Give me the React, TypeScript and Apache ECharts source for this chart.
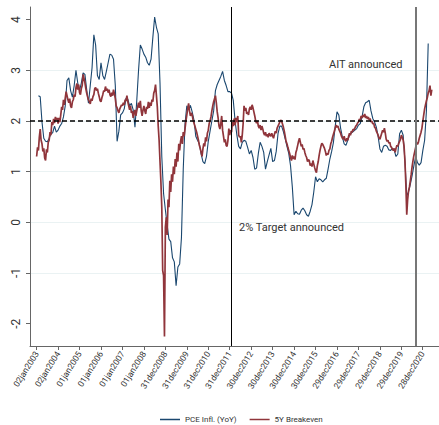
import React, { useEffect, useRef } from "react";
import * as echarts from "echarts";

// Tick labels on the date axis (Stata-style %td dates)
const xTickLabels = [
  "02jan2003", "02jan2004", "01jan2005", "01jan2006", "01jan2007", "01jan2008",
  "31dec2008", "31dec2009", "31dec2010", "31dec2011", "30dec2012", "30dec2013",
  "30dec2014", "30dec2015", "29dec2016", "29dec2017", "29dec2018", "29dec2019",
  "28dec2020",
];
const yTickValues = [-2, -1, 0, 1, 2, 3, 4];

// Policy announcements
const targetDate = "25jan2012";
const aitDate = "27aug2020";
const inflationTarget = 2;

// PCE inflation, year over year, monthly from Feb 2003
const pceFirstMonth = { year: 2003, month: 2 };
const pceInflation = [
  2.5, 2.48, 1.98, 1.66, 1.6, 1.59, 1.66, 1.75, 1.77, 1.9, 1.78,
  1.82, 1.9, 1.95, 2.08, 2.3, 2.8, 2.85, 2.6, 2.47, 2.7, 3.0, 2.75,
  2.6, 2.75, 2.95, 2.92, 2.62, 2.35, 2.7, 3.05, 3.7, 3.5, 2.9, 2.82,
  3.15, 2.9, 2.82, 2.98, 3.15, 3.32, 3.3, 3.22, 2.7, 1.6, 1.8, 2.12,
  2.16, 2.24, 2.45, 2.43, 2.3, 2.35, 2.22, 1.88, 2.4, 3.0, 3.5, 3.42,
  3.32, 3.26, 3.15, 3.1, 3.22, 3.65, 4.05, 3.85, 3.72, 2.75, 1.3, 0.57,
  0.25, -0.05, -0.33, -0.38, -0.7, -0.78, -1.25, -0.88, -0.82, -0.3, 1.05, 1.95,
  2.3, 2.22, 2.31, 2.18, 2.02, 1.7, 1.62, 1.55, 1.35, 1.2, 1.16, 1.3,
  1.6, 1.8, 2.0, 2.2, 2.6, 2.72, 2.8, 2.88, 2.98, 2.8, 2.7, 2.58,
  2.58, 2.55, 2.4, 2.0, 1.72, 1.5, 1.45, 1.58, 1.62, 1.6, 1.48,
  1.35, 1.42, 1.28, 1.05, 1.07, 1.36, 1.58, 1.5, 1.38, 1.05, 1.2, 1.33,
  1.46, 1.2, 1.22, 1.4, 1.75, 1.9, 1.9, 1.79, 1.65, 1.5, 1.36, 1.12,
  0.7, 0.15, 0.22, 0.17, 0.16, 0.24, 0.28, 0.23, 0.15, 0.12, 0.22, 0.35,
  0.6, 0.9, 0.8, 0.86, 0.84, 0.8, 0.84, 0.87, 1.05, 1.25, 1.4, 1.58,
  1.9, 2.18, 2.12, 1.86, 1.68, 1.55, 1.52, 1.62, 1.72, 1.76, 1.79, 1.82,
  1.85, 1.92, 1.95, 2.08, 2.28, 2.36, 2.38, 2.41, 2.2, 2.05, 1.98, 1.88,
  1.69, 1.45, 1.38, 1.5, 1.52, 1.5, 1.43, 1.42, 1.46, 1.42, 1.3, 1.35,
  1.75, 1.82, 1.72, 1.2, 0.52, 0.6, 0.75, 0.92, 1.12, 1.3, 1.18, 1.13,
  1.18, 1.42, 1.62, 2.2, 3.53,
];

// 5-year breakeven inflation, twice a month from the start of 2003
const breakevenFirstYear = 2003;
const breakeven5y = [
  1.30, 1.48, 1.42, 1.68, 1.84, 1.62, 1.55, 1.40, 1.46, 1.27, 1.22, 1.44, 1.38, 1.58, 1.62, 1.78, 1.72, 1.98, 1.92, 2.04, 1.96, 2.08, 2.02, 2.06,
  1.95, 2.06, 1.98, 2.12, 2.28, 2.22, 2.42, 2.32, 2.45, 2.58, 2.50, 2.42, 2.36, 2.44, 2.30, 2.26, 2.38, 2.42, 2.52, 2.48, 2.66, 2.74, 2.62, 2.72,
  2.56, 2.52, 2.64, 2.70, 2.92, 2.84, 2.76, 2.64, 2.55, 2.48, 2.42, 2.38, 2.34, 2.44, 2.40, 2.48, 2.52, 2.64, 2.66, 2.60, 2.64, 2.55, 2.48, 2.40,
  2.38, 2.46, 2.52, 2.60, 2.58, 2.68, 2.60, 2.64, 2.56, 2.62, 2.52, 2.48, 2.56, 2.50, 2.62, 2.54, 2.44, 2.30, 2.26, 2.20, 2.16, 2.24, 2.28, 2.32,
  2.30, 2.36, 2.32, 2.42, 2.40, 2.50, 2.38, 2.30, 2.22, 2.30, 2.16, 2.20, 2.06, 2.16, 2.22, 2.10, 2.20, 2.28, 2.36, 2.26, 2.40, 2.20, 2.10, 2.22,
  2.30, 2.20, 2.14, 2.28, 2.24, 2.38, 2.26, 2.36, 2.30, 2.42, 2.38, 2.55, 2.60, 2.72, 2.50, 2.28, 1.90, 1.62, 1.20, 0.80, 0.30, -0.95, -1.05, -2.25,
  -0.10, 0.10, -0.25, 0.45, 0.30, 0.82, 0.60, 0.95, 0.80, 1.10, 0.95, 1.25, 1.10, 1.38, 1.20, 1.55, 1.42, 1.60, 1.70, 1.55, 1.78, 1.70, 1.85, 2.00,
  2.12, 2.24, 2.35, 2.20, 2.10, 2.16, 2.12, 2.02, 1.96, 1.90, 1.84, 1.78, 1.70, 1.62, 1.52, 1.46, 1.38, 1.30, 1.45, 1.56, 1.50, 1.68, 1.60, 1.76,
  1.82, 1.95, 2.00, 2.08, 2.20, 2.30, 2.38, 2.44, 2.50, 2.36, 2.18, 2.06, 1.90, 1.84, 1.95, 2.10, 1.82, 1.70, 1.58, 1.64, 1.52, 1.50, 1.62, 1.85,
  1.72, 1.82, 1.78, 1.98, 1.90, 2.05, 1.92, 2.06, 1.98, 2.10, 1.72, 1.68, 1.70, 1.58, 1.72, 1.95, 2.30, 2.20, 2.26, 2.14, 2.18, 2.12,
  2.24, 2.28, 2.22, 2.32, 2.26, 2.18, 2.10, 2.00, 1.96, 2.00, 1.90, 1.86, 1.92, 1.82, 1.90, 1.84, 1.76, 1.72, 1.78, 1.70, 1.74, 1.68, 1.76, 1.72,
  1.70, 1.76, 1.70, 1.66, 1.74, 1.80, 1.76, 1.86, 1.90, 1.94, 1.98, 2.02, 2.00, 1.94, 1.88, 1.80, 1.70, 1.60, 1.55, 1.48, 1.42, 1.36, 1.28, 1.22,
  1.32, 1.25, 1.30, 1.24, 1.38, 1.44, 1.52, 1.60, 1.66, 1.58, 1.50, 1.54, 1.44, 1.46, 1.38, 1.32, 1.28, 1.20, 1.24, 1.22, 1.12, 1.16, 1.10, 1.22,
  1.15, 1.08, 1.02, 0.98, 1.12, 1.20, 1.32, 1.42, 1.50, 1.56, 1.54, 1.50, 1.46, 1.40, 1.32, 1.36, 1.34, 1.42, 1.45, 1.55, 1.60, 1.68, 1.74, 1.80,
  1.86, 1.92, 1.88, 1.90, 1.84, 1.80, 1.76, 1.70, 1.66, 1.64, 1.70, 1.62, 1.60, 1.66, 1.62, 1.70, 1.76, 1.72, 1.80, 1.78, 1.84, 1.82, 1.86, 1.90,
  1.92, 1.96, 1.98, 2.04, 2.02, 2.10, 2.06, 2.12, 2.08, 2.14, 2.06, 2.10, 2.04, 2.08, 2.02, 2.05, 1.98, 2.00, 1.94, 1.96, 1.88, 1.86, 1.80, 1.76,
  1.72, 1.66, 1.64, 1.70, 1.76, 1.82, 1.78, 1.86, 1.76, 1.64, 1.60, 1.62, 1.56, 1.58, 1.50, 1.48, 1.44, 1.42, 1.46, 1.38, 1.46, 1.52, 1.50, 1.56,
  1.60, 1.64, 1.72, 1.68, 1.62, 1.50, 1.20, 0.75, 0.15, 0.45, 0.62, 0.70, 0.82, 0.95, 1.10, 1.22, 1.32, 1.40, 1.48, 1.58, 1.54, 1.58, 1.66, 1.72,
  1.78, 1.86, 2.00, 2.12, 2.24, 2.32, 2.40, 2.46, 2.55, 2.60, 2.70, 2.50, 2.62,
];

const seriesNames = ["PCE Infl. (YoY)", "5Y Breakeven"];
const annotations = { target: "2% Target announced", ait: "AIT announced" };

const MONTHS = ["jan", "feb", "mar", "apr", "may", "jun", "jul", "aug", "sep", "oct", "nov", "dec"];

// "02jan2003" -> fractional year
function toDecimalYear(label: string): number {
  const day = Number(label.slice(0, 2));
  const month = MONTHS.indexOf(label.slice(2, 5));
  const year = Number(label.slice(5));
  const start = Date.UTC(year, 0, 1);
  const end = Date.UTC(year + 1, 0, 1);
  return year + (Date.UTC(year, month, day) - start) / (end - start);
}

const NAVY = "#1a476f";
const MAROON = "#90353b";
const FONT = "Roboto, 'Liberation Sans', sans-serif";

export default function App() {
  const ref = useRef<HTMLDivElement>(null);

  useEffect(() => {
    if (!ref.current) return;
    const chart = echarts.init(ref.current, null, { renderer: "svg" });

    const xTicks = xTickLabels.map(toDecimalYear);
    const pceData = pceInflation.map((v, i) => [
      pceFirstMonth.year + (pceFirstMonth.month - 1 + i) / 12,
      v,
    ]);
    const breakevenData = breakeven5y.map((v, i) => [breakevenFirstYear + i / 24, v]);

    chart.setOption({
      animation: false,
      backgroundColor: "#ffffff",
      grid: { left: 30, right: 0, top: 7, height: 339, containLabel: false },
      xAxis: {
        type: "value",
        min: 2002.691,
        max: 2021.753,
        splitLine: { show: false },
        axisLine: { show: true, onZero: false, lineStyle: { color: "#666", width: 1 } },
        axisTick: {
          show: true,
          customValues: xTicks,
          length: 4,
          lineStyle: { color: "#666", width: 1 },
        },
        axisLabel: {
          customValues: xTicks,
          rotate: 58,
          margin: 6,
          fontSize: 8.5,
          fontFamily: FONT,
          color: "#333",
          formatter: (val: number) => {
            let best = 0;
            xTicks.forEach((t, i) => {
              if (Math.abs(t - val) < Math.abs(xTicks[best] - val)) best = i;
            });
            return xTickLabels[best];
          },
        },
      },
      yAxis: {
        type: "value",
        min: -2.44,
        max: 4.25,
        splitNumber: 6,
        axisLine: { show: true, lineStyle: { color: "#666", width: 1 } },
        axisTick: {
          show: true,
          customValues: yTickValues,
          length: 4,
          lineStyle: { color: "#666", width: 1 },
        },
        axisLabel: {
          customValues: yTickValues,
          rotate: 90,
          margin: 8,
          fontSize: 12,
          fontFamily: FONT,
          color: "#333",
        },
        splitLine: {
          show: true,
          showMinLine: false,
          showMaxLine: false,
          lineStyle: { color: "#eaf2f3", width: 1 },
        },
      },
      legend: {
        data: seriesNames,
        left: 160,
        top: 415,
        padding: 0,
        icon: "rect",
        itemWidth: 20,
        itemHeight: 1.5,
        itemGap: 13,
        textStyle: { fontSize: 8, fontFamily: FONT, color: "#333", lineHeight: 9 },
      },
      series: [
        {
          name: seriesNames[0],
          type: "line",
          data: pceData,
          showSymbol: false,
          lineStyle: { color: NAVY, width: 1.1 },
          itemStyle: { color: NAVY },
          z: 3,
        },
        {
          name: seriesNames[1],
          type: "line",
          data: breakevenData,
          showSymbol: false,
          lineStyle: { color: MAROON, width: 1.7 },
          itemStyle: { color: MAROON },
          z: 4,
        },
        {
          name: "reference lines",
          type: "line",
          data: [],
          z: 5,
          silent: true,
          markLine: {
            silent: true,
            symbol: ["none", "none"],
            label: { show: false },
            animation: false,
            data: [
              { yAxis: inflationTarget, lineStyle: { color: "#000", type: [5, 3], width: 1.5 } },
              { xAxis: toDecimalYear(targetDate), lineStyle: { color: "#000", type: "solid", width: 1 } },
              { xAxis: toDecimalYear(aitDate), lineStyle: { color: "#777", type: "solid", width: 2 } },
            ],
          },
        },
      ],
      graphic: [
        {
          type: "text",
          left: 329,
          top: 59,
          style: { text: annotations.ait, fontSize: 11, fontFamily: FONT, fill: "#333" },
        },
        {
          type: "text",
          left: 239,
          top: 222,
          style: { text: annotations.target, fontSize: 11, fontFamily: FONT, fill: "#333" },
        },
      ],
    });

    return () => chart.dispose();
  }, []);

  return (
    <div
      ref={ref}
      style={{ position: "fixed", left: 0, top: 0, width: 439, height: 425, background: "#fff" }}
    />
  );
}
